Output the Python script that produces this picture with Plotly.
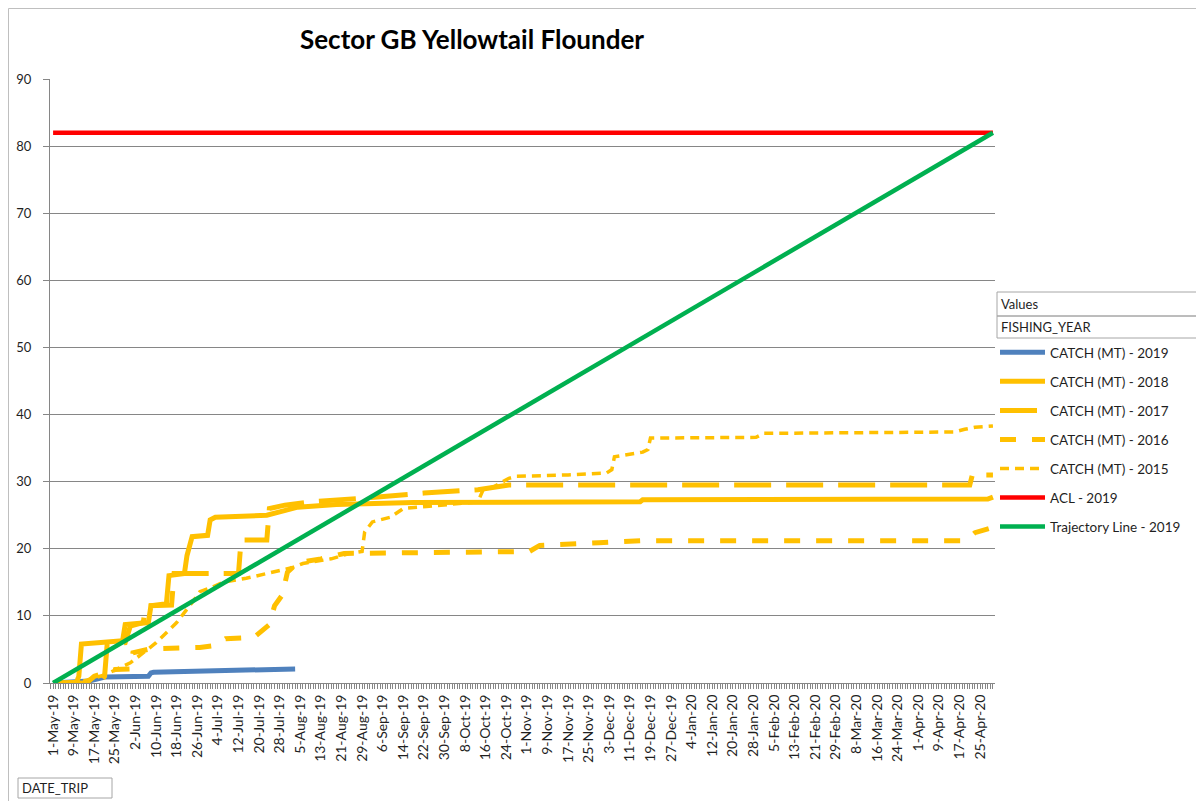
import pandas as pd
import plotly.graph_objects as go

START = "2019-05-01"

# ---- data (day offset from 1-May-19, cumulative catch in MT) ----
days_2019 = [0, 12, 14, 17, 20, 37, 38, 39, 50, 60, 70, 80, 94]
catch_2019 = [0, 0.1, 0.3, 0.6, 0.9, 1.0, 1.5, 1.6, 1.7, 1.8, 1.9, 2.0, 2.1]

days_2018 = [0, 9, 10, 11, 21, 27, 28, 37, 38, 44, 45, 51, 52, 54, 60, 61, 63, 83, 88, 95,
             110, 140, 228, 229, 363, 365]
catch_2018 = [0, 0, 1.0, 5.8, 6.1, 6.3, 8.7, 9.0, 11.5, 11.8, 16.0, 16.3, 19.0, 21.8, 22.0,
              24.3, 24.7, 25.0, 25.5, 26.2, 26.6, 26.9, 27.0, 27.3, 27.4, 27.7]

days_2017 = [0, 18, 20, 21, 28, 30, 35, 36, 46, 47, 72, 73, 83, 84, 90, 100, 126, 144, 165,
             177, 356, 357, 365]
catch_2017 = [0, 0, 1.0, 5.8, 6.0, 8.5, 9.0, 11.5, 11.6, 16.3, 16.3, 21.3, 21.3, 26.0, 26.5,
              27.0, 27.7, 28.3, 28.8, 29.5, 29.5, 31.0, 31.0]

days_2016 = [0, 13, 16, 24, 30, 31, 38, 57, 63, 67, 78, 81, 84, 86, 89, 91, 95, 104, 113,
             185, 189, 212, 228, 354, 358, 365]
catch_2016 = [0, 0, 1.0, 2.0, 2.1, 4.5, 5.1, 5.3, 5.6, 6.6, 6.8, 7.8, 8.7, 11.5, 13.1, 16.5,
              17.9, 18.5, 19.3, 19.6, 20.5, 20.9, 21.2, 21.2, 22.4, 23.2]

days_2015 = [0, 12, 20, 30, 40, 48, 55, 57, 62, 66, 75, 88, 93, 97, 108, 115, 120, 121, 124,
             131, 136, 145, 165, 167, 171, 177, 180, 200, 215, 217, 218, 229, 231, 232, 273,
             276, 350, 354, 358, 365]
catch_2015 = [0, 0.3, 1.2, 3.0, 6.0, 9.0, 12.5, 13.6, 14.3, 15.0, 15.6, 16.8, 17.2, 17.8,
              18.5, 19.3, 19.6, 22.5, 24.0, 24.7, 26.0, 26.3, 27.0, 28.8, 29.2, 30.5, 30.8,
              31.0, 31.3, 31.8, 33.7, 34.4, 34.8, 36.5, 36.6, 37.2, 37.4, 37.8, 38.1, 38.3]

acl_days = [0, 365]
acl_values = [82, 82]

traj_days = [0, 365]
traj_values = [0, 82]

x_tick_step_days = 8

# ---- helpers ----
BASE = pd.Timestamp(START)


def to_dates(days):
    return [(BASE + pd.Timedelta(days=d)).strftime("%Y-%m-%d") for d in days]


# the page adds an 8px body margin; positions below are page pixels
OFF = 8
W, H = 1204 - OFF, 801 - OFF
PL, PR, PT, PB = 50, 995, 79, 683


def xp(px):
    return (px - PL) / (PR - PL)


def yp(py):
    return (PB - py) / (PB - PT)


YELLOW = "#FFC000"
GRID = "#868686"
FONT = "Lato, 'Open Sans', sans-serif"
TXT = "#1f1f1f"

series = [
    ("CATCH (MT) - 2019", days_2019, catch_2019, "#4F81BD", 5, "solid"),
    ("CATCH (MT) - 2018", days_2018, catch_2018, YELLOW, 5, "solid"),
    ("CATCH (MT) - 2017", days_2017, catch_2017, YELLOW, 5, "37px,15px"),
    ("CATCH (MT) - 2016", days_2016, catch_2016, YELLOW, 5, "16px,16px"),
    ("CATCH (MT) - 2015", days_2015, catch_2015, YELLOW, 3.5, "9px,6px"),
    ("ACL - 2019", acl_days, acl_values, "#FF0000", 4.5, "solid"),
    ("Trajectory Line - 2019", traj_days, traj_values, "#00B050", 4.5, "solid"),
]

fig = go.Figure()
for i, (name, d, v, color, w, dash) in enumerate(series):
    fig.add_trace(go.Scatter(
        x=to_dates(d), y=v, mode="lines", name=name,
        line=dict(color=color, width=w, dash=dash),
        legendgroup=f"g{i}",
    ))

x0 = BASE - pd.Timedelta(hours=1.2 * 24)
x1 = BASE + pd.Timedelta(hours=365.8 * 24)

fig.update_layout(
    width=W, height=H,
    margin=dict(l=PL - OFF, r=1204 - PR, t=PT - OFF, b=801 - PB, autoexpand=False),
    paper_bgcolor="white", plot_bgcolor="white",
    font=dict(family=FONT, color=TXT, size=13),
    title=dict(text="Sector GB Yellowtail Flounder", x=(472 - OFF) / W, xanchor="center",
               y=1 - (40 - OFF) / H, yanchor="middle", xref="container", yref="container",
               font=dict(family=FONT, size=26, color="#000000", weight=700)),
    showlegend=True,
    legend=dict(x=xp(995), y=yp(337), xanchor="left", yanchor="top",
                bgcolor="rgba(0,0,0,0)", font=dict(size=13.5, color=TXT),
                tracegroupgap=8.5, itemwidth=45, traceorder="grouped"),
    xaxis=dict(type="date", range=[x0, x1], tick0=START,
               dtick=x_tick_step_days * 86400000, tickformat="%-d-%b-%y",
               tickangle=-90, ticks="outside", ticklen=5, tickcolor=GRID,
               showline=True, linecolor=GRID, linewidth=1, showgrid=False, zeroline=False,
               tickfont=dict(size=14, color=TXT),
               minor=dict(dtick=86400000, ticks="outside", ticklen=5, tickcolor=GRID,
                          showgrid=False)),
    yaxis=dict(range=[0, 90], dtick=10, ticks="outside", ticklen=6, tickcolor=GRID,
               showline=True, linecolor=GRID, linewidth=1, showgrid=True,
               gridcolor=GRID, gridwidth=1, zeroline=False, ticklabelstandoff=9,
               tickfont=dict(size=13, color=TXT)),
)

shapes = [
    # outer chart frame
    dict(type="rect", xref="paper", yref="paper", x0=xp(OFF + 0.5), x1=xp(1230),
         y0=yp(830), y1=yp(OFF + 0.5), line=dict(color="#BFBFBF", width=1), layer="below"),
    # legend header boxes
    dict(type="rect", xref="paper", yref="paper", x0=xp(997), x1=xp(1200), y0=yp(316), y1=yp(292),
         line=dict(color="#A6A6A6", width=1)),
    dict(type="rect", xref="paper", yref="paper", x0=xp(997), x1=xp(1200), y0=yp(338), y1=yp(316),
         line=dict(color="#A6A6A6", width=1)),
    # axis field box
    dict(type="rect", xref="paper", yref="paper", x0=xp(18), x1=xp(112), y0=yp(798), y1=yp(778),
         line=dict(color="#A6A6A6", width=1)),
]
fig.update_layout(shapes=shapes)

for text, px, py in [("Values", 999, 304), ("FISHING_YEAR", 999, 327), ("DATE_TRIP", 20, 788)]:
    fig.add_annotation(text=text, xref="paper", yref="paper", x=xp(px), y=yp(py),
                       xanchor="left", yanchor="middle", showarrow=False,
                       font=dict(size=13, color=TXT, family=FONT))

fig.write_html("out.html")
